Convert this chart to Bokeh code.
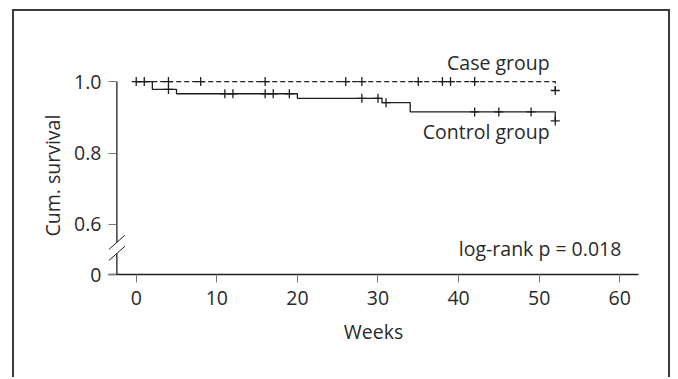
from bokeh.plotting import figure
from bokeh.models import Range1d, FixedTicker, Label, ColumnDataSource, Title
from bokeh.embed import file_html
from bokeh.resources import INLINE

# ---------------- data ----------------
case_event_weeks = [0, 52]
case_event_surv = [1.0, 0.975]
case_censor_weeks = [0, 1, 4, 8, 16, 26, 28, 35, 38, 39, 42, 52]

control_event_weeks = [0, 2, 5, 20, 30.5, 34, 52]
control_event_surv = [1.0, 0.978, 0.966, 0.953, 0.941, 0.915, 0.89]
control_censor_weeks = [4, 11, 12, 16, 17, 19, 28, 30, 31, 42, 45, 49, 52]

x_ticks = [0, 10, 20, 30, 40, 50, 60]
Y_ZERO = 0.46          # position of the "0" tick below the axis break
y_ticks = [Y_ZERO, 0.6, 0.8, 1.0]
y_tick_labels = ["0", "0.6", "0.8", "1.0"]

p_value_text = "log-rank p = 0.018"

# ---------------- style ----------------
FONT = "Open Sans"
FS = "19.5px"
INK = "#1e1e1e"
TXT = "#2a2a2a"
TICK = "#777777"
FRAME = "2px solid #3a3a3a"


def surv_at(weeks, ev_w, ev_s):
    out = []
    for w in weeks:
        s = ev_s[0]
        for t, v in zip(ev_w, ev_s):
            if t <= w:
                s = v
        out.append(s)
    return out


p = figure(width=658, height=368, output_backend="svg", toolbar_location=None,
           x_range=Range1d(-3.44, 62.33), y_range=Range1d(Y_ZERO, 1.115),
           min_border_left=94, min_border_right=34, min_border_top=29,
           min_border_bottom=105,
           margin=(9, 0, 0, 12),
           styles={"border-left": FRAME, "border-top": FRAME, "border-right": FRAME})
p.grid.visible = False
p.outline_line_color = None
p.background_fill_color = "white"
p.border_fill_color = "white"

# curves
p.step(case_event_weeks, case_event_surv, mode="after", line_color=INK,
       line_width=1.3, line_dash="5 3")
p.step(control_event_weeks, control_event_surv, mode="after", line_color=INK,
       line_width=1.3)

case_src = ColumnDataSource(dict(x=case_censor_weeks,
                                 y=surv_at(case_censor_weeks, case_event_weeks, case_event_surv)))
ctrl_src = ColumnDataSource(dict(x=control_censor_weeks,
                                 y=surv_at(control_censor_weeks, control_event_weeks, control_event_surv)))
p.scatter("x", "y", source=case_src, marker="cross", size=9, line_color=INK, line_width=1.3)
p.scatter("x", "y", source=ctrl_src, marker="cross", size=9, line_color=INK, line_width=1.3)

# x axis
xa = p.xaxis[0]
xa.ticker = FixedTicker(ticks=x_ticks)
xa.axis_line_color = INK
xa.axis_line_width = 1.3
xa.major_tick_out = 8
xa.major_tick_in = 0
xa.major_tick_line_color = TICK
xa.minor_tick_line_color = None
xa.major_label_text_font = FONT
xa.major_label_text_font_size = FS
xa.major_label_text_color = TXT
xa.major_label_standoff = 8
xa.axis_label = "Weeks"
xa.axis_label_text_font = FONT
xa.axis_label_text_font_size = FS
xa.axis_label_text_font_style = "normal"
xa.axis_label_text_color = TXT
xa.axis_label_standoff = 10

# y axis (line drawn separately, because of the break)
ya = p.yaxis[0]
ya.bounds = (Y_ZERO, 1.0)
ya.ticker = FixedTicker(ticks=y_ticks)
ya.major_label_overrides = dict(zip(y_ticks, y_tick_labels))
ya.axis_line_color = None
ya.major_tick_in = 8
ya.major_tick_out = 0
ya.major_tick_line_color = TICK
ya.minor_tick_line_color = None
ya.major_label_text_font = FONT
ya.major_label_text_font_size = FS
ya.major_label_text_color = TXT
ya.major_label_standoff = 7

# y axis title, centred on the drawn axis (not on the frame)
p.add_layout(Title(text="Cum. survival", align="left", offset=38, standoff=11,
                   text_font=FONT, text_font_size=FS, text_font_style="normal",
                   text_color=TXT), "left")

YAX = -2.4            # x position of the vertical axis line (weeks)
BRK_HI, BRK_LO = 0.550, 0.519
p.segment(x0=[YAX, YAX], y0=[1.0, BRK_LO], x1=[YAX, YAX], y1=[BRK_HI, Y_ZERO],
          line_color=INK, line_width=1.3)
SL_DX, SL_DY = 1.0, 0.020
p.segment(x0=[YAX - SL_DX, YAX - SL_DX], y0=[BRK_HI - SL_DY, BRK_LO - SL_DY],
          x1=[YAX + SL_DX, YAX + SL_DX], y1=[BRK_HI + SL_DY, BRK_LO + SL_DY],
          line_color=INK, line_width=1.0)

# texts
p.add_layout(Label(x=51.3, y=1.054, text="Case group", text_font=FONT, text_font_size=FS,
                   text_color=TXT, text_align="right", text_baseline="alphabetic"))
p.add_layout(Label(x=51.3, y=0.859, text="Control group", text_font=FONT, text_font_size=FS,
                   text_color=TXT, text_align="right", text_baseline="alphabetic"))
p.add_layout(Label(x=60.2, y=0.532, text=p_value_text, text_font=FONT, text_font_size=FS,
                   text_color=TXT, text_align="right", text_baseline="alphabetic"))

open("out.html", "w").write(file_html(p, INLINE))
